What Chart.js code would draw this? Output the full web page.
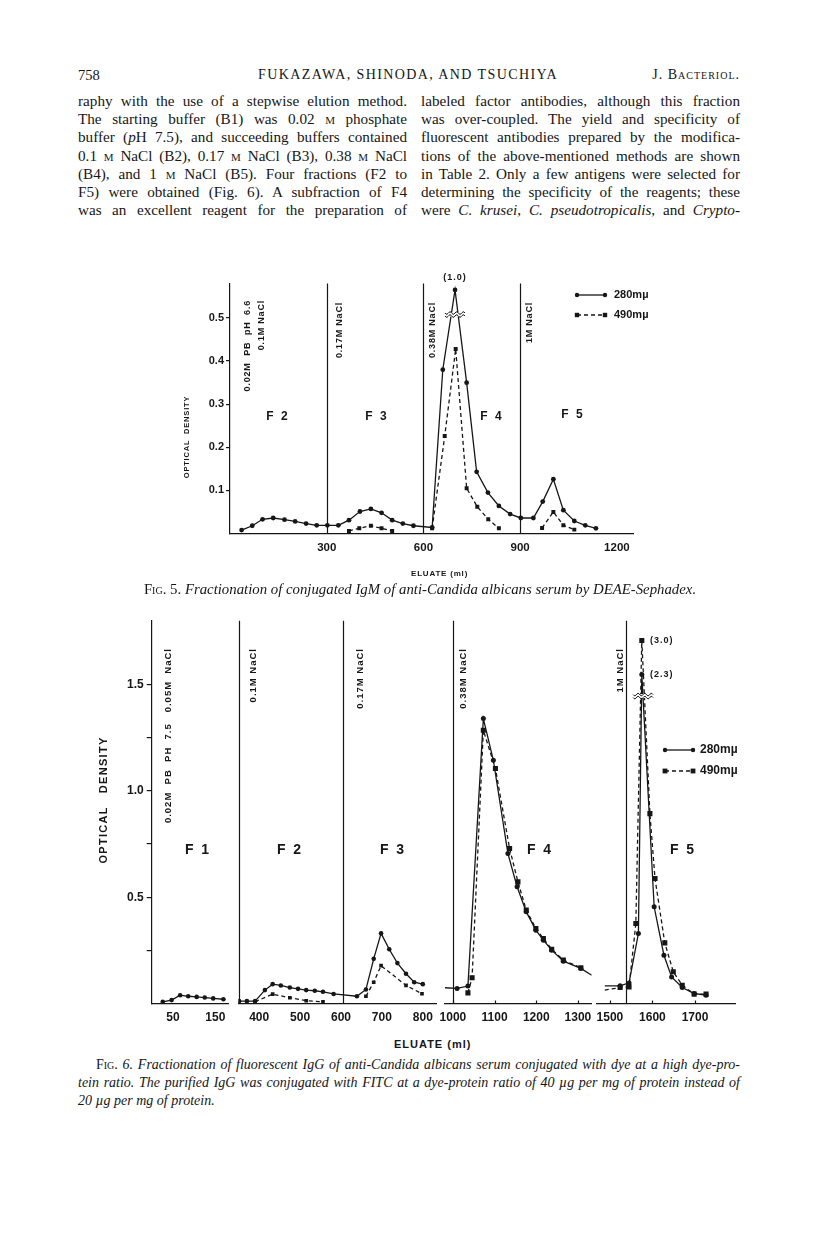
<!DOCTYPE html>
<html>
<head>
<meta charset="utf-8">
<script src="https://cdn.jsdelivr.net/npm/chart.js"></script>
<style>
  body { margin: 0; background: #fff; }
  #page { position: relative; width: 816px; height: 1256px; overflow: hidden; color: #161616;
          font-family: "Liberation Serif", "Times New Roman", serif; }
  .abs { position: absolute; white-space: nowrap; }
  .col { position: absolute; font-size: 15.2px; line-height: 18.2px; }
  .col div, .cap div { text-align: justify; text-align-last: justify; height: 18.2px; }
  .cap { position: absolute; font-size: 14px; line-height: 18px; font-style: italic; }
  .sc { font-variant: small-caps; font-style: normal; }
  .ax { font-family: "Liberation Sans", Arial, sans-serif; font-weight: bold; }
  canvas { position: absolute; }
</style>
</head>
<body>
<div id="page">
  <div class="abs" style="left:78px;top:67px;font-size:14.5px;">758</div>
  <div class="abs" style="left:0;width:816px;text-align:center;top:67px;font-size:14px;letter-spacing:1.4px;">FUKAZAWA, SHINODA, AND TSUCHIYA</div>
  <div class="abs" style="right:76px;top:67px;font-size:14px;letter-spacing:1px;">J. <span class="sc">Bacteriol.</span></div>

  <div class="col" style="left:78px;top:92px;width:329px;">
    <div>raphy with the use of a stepwise elution method.</div>
    <div>The starting buffer (B1) was 0.02 <span class="sc">m</span> phosphate</div>
    <div>buffer (<i>p</i>H 7.5), and succeeding buffers contained</div>
    <div>0.1 <span class="sc">m</span> NaCl (B2), 0.17 <span class="sc">m</span> NaCl (B3), 0.38 <span class="sc">m</span> NaCl</div>
    <div>(B4), and 1 <span class="sc">m</span> NaCl (B5). Four fractions (F2 to</div>
    <div>F5) were obtained (Fig. 6). A subfraction of F4</div>
    <div>was an excellent reagent for the preparation of</div>
  </div>
  <div class="col" style="left:421px;top:92px;width:319px;">
    <div>labeled factor antibodies, although this fraction</div>
    <div>was over-coupled. The yield and specificity of</div>
    <div>fluorescent antibodies prepared by the modifica-</div>
    <div>tions of the above-mentioned methods are shown</div>
    <div>in Table 2. Only a few antigens were selected for</div>
    <div>determining the specificity of the reagents; these</div>
    <div>were <i>C. krusei</i>, <i>C. pseudotropicalis</i>, and <i>Crypto-</i></div>
  </div>

  <canvas id="fig5" width="540" height="320" style="left:120px;top:262px;"></canvas>
  <div class="abs ax" style="left:411px;top:569px;font-size:8px;letter-spacing:0.8px;">ELUATE (ml)</div>
  <div class="abs" style="left:0;width:840px;text-align:center;top:581px;font-size:14.8px;"><span class="sc">Fig.</span> 5. <i>Fractionation of conjugated IgM of anti-Candida albicans serum by DEAE-Sephadex.</i></div>

  <canvas id="f6a" width="200" height="430" style="left:40px;top:600px;"></canvas>
  <canvas id="f6b" width="225" height="430" style="left:228px;top:600px;"></canvas>
  <canvas id="f6c" width="172" height="430" style="left:432px;top:600px;"></canvas>
  <canvas id="f6d" width="170" height="430" style="left:586px;top:600px;"></canvas>
  <div class="abs ax" style="left:394px;top:1038px;font-size:11px;letter-spacing:1px;">ELUATE (ml)</div>

  <div class="cap" style="left:78px;top:1056px;width:662px;">
    <div style="padding-left:18px;"><span class="sc">Fig.</span> 6. Fractionation of fluorescent IgG of anti-Candida albicans serum conjugated with dye at a high dye-pro-</div>
    <div>tein ratio. The purified IgG was conjugated with FITC at a dye-protein ratio of 40 µg per mg of protein instead of</div>
    <div style="text-align:left;text-align-last:left;">20 µg per mg of protein.</div>
  </div>
</div>

<script>
// Fig. 5 - conjugated IgM, DEAE-Sephadex (eluate ml / optical density)
const fig5Ml280 = [36, 69, 101, 134, 169, 202, 236, 269, 302, 336, 369, 403, 437, 470, 503, 536, 569, 627, 660, 698, 734, 765, 800, 834, 869, 902, 941, 970, 1003, 1034, 1068, 1102, 1135];
const fig5Od280 = [0.008, 0.018, 0.033, 0.036, 0.032, 0.028, 0.023, 0.019, 0.019, 0.019, 0.031, 0.051, 0.057, 0.048, 0.031, 0.023, 0.018, 0.014, 0.38, 0.565, 0.35, 0.143, 0.095, 0.064, 0.045, 0.036, 0.036, 0.074, 0.126, 0.054, 0.029, 0.019, 0.012];
const fig5Ml490 = [369, 401, 437, 470, 503, 560, 627, 666, 700, 734, 767, 801, 834, 900, 968, 1003, 1034, 1068];
const fig5Od490 = [0.006, 0.012, 0.018, 0.012, 0.006, null, 0.012, 0.226, 0.428, 0.105, 0.062, 0.033, 0.012, null, 0.013, 0.050, 0.019, 0.009];
const fig5Steps = [300, 600, 900];
const fig5XTicks = [300, 600, 900, 1200];
const fig5YTicks = [0.1, 0.2, 0.3, 0.4, 0.5];
const fig5Break = [698, 0.508];
const fig5PeakTrue = 1.0;

// Fig. 6 - fluorescent IgG, four panels with their own ml ranges
const f6aMl280 = [26, 47, 67, 86, 106, 125, 145, 169];
const f6aOd280 = [0.008, 0.016, 0.039, 0.034, 0.031, 0.028, 0.024, 0.020];

const f6bMl280 = [351, 370, 390, 414, 433, 453, 475, 495, 515, 536, 556, 582, 639, 661, 680, 698, 718, 738, 759, 779, 800];
const f6bOd280 = [0.011, 0.011, 0.011, 0.063, 0.091, 0.085, 0.075, 0.069, 0.063, 0.060, 0.055, 0.045, 0.034, 0.066, 0.21, 0.33, 0.255, 0.19, 0.14, 0.10, 0.091];
const f6bMl490 = [390, 433, 475, 515, 556, 610, 661, 680, 698, 759, 798];
const f6bOd490 = [0.008, 0.044, 0.027, 0.013, 0.008, null, 0.034, 0.10, 0.178, 0.085, 0.046];

const f6cMl280 = [981, 1010, 1036, 1073, 1097, 1132, 1154, 1176, 1199, 1217, 1237, 1265, 1307, 1333];
const f6cOd280 = [0.074, 0.071, 0.082, 1.340, 1.144, 0.705, 0.549, 0.431, 0.345, 0.298, 0.251, 0.199, 0.165, 0.133];
const f6cMl490 = [1036, 1046, 1073, 1102, 1136, 1156, 1176, 1199, 1217, 1237, 1265, 1307];
const f6cOd490 = [0.050, 0.121, 1.285, 1.105, 0.729, 0.572, 0.439, 0.353, 0.306, 0.255, 0.204, 0.168];

const f6dMl280 = [1488, 1524, 1545, 1567, 1575, 1604, 1627, 1645, 1670, 1698, 1726];
const f6dOd280 = [0.083, 0.083, 0.097, 0.329, 1.548, 0.455, 0.227, 0.125, 0.075, 0.047, 0.039];
const f6dMl490 = [1488, 1524, 1545, 1561, 1575, 1594, 1606, 1629, 1649, 1670, 1698, 1726];
const f6dOd490 = [0.063, 0.075, 0.078, 0.376, 1.707, 0.893, 0.588, 0.285, 0.149, 0.086, 0.044, 0.044];

const fig6Steps = [[], [351, 606], [1000], [1537]];
const fig6XTicks = [[50, 150], [400, 500, 600, 700, 800], [1000, 1100, 1200, 1300], [1500, 1600, 1700]];
const fig6YTicks = [0.25, 0.5, 0.75, 1.0, 1.25, 1.5];
const fig6Break = [1578, 1.446];
const fig6PeakTrue = [2.3, 3.0];

const ink = '#161616';
const sans = '"Liberation Sans", Arial, sans-serif';
Chart.defaults.animation = false;
Chart.defaults.font.family = sans;
Chart.defaults.color = ink;

const pts = (xs, ys) => xs.map((x, i) => ({x: x, y: ys[i]}));
const setTicks = vals => s => { s.ticks = vals.map(v => ({value: v})); };

function series(data, dashed, r, w) {
  return {
    data: data,
    borderColor: ink, backgroundColor: ink,
    borderWidth: w || 1.3,
    borderDash: dashed ? [4, 3] : [],
    pointStyle: dashed ? 'rect' : 'circle',
    pointRadius: r, pointBorderWidth: 0,
    tension: 0, spanGaps: false
  };
}

function marker(ctx, x, y, sq, r) {
  ctx.beginPath();
  if (sq) ctx.rect(x - r, y - r, 2 * r, 2 * r);
  else ctx.arc(x, y, r, 0, Math.PI * 2);
  ctx.fill();
}

// text, step lines, broken-axis marks and legend on top of a chart
function decor(o) {
  return {
    id: 'decor',
    afterDatasetsDraw(chart) {
      const ctx = chart.ctx, a = chart.chartArea, xs = chart.scales.x, ys = chart.scales.y;
      ctx.save();
      ctx.strokeStyle = ink; ctx.fillStyle = ink; ctx.lineWidth = 1.2;
      (o.steps || []).forEach(v => {
        const px = Math.round(xs.getPixelForValue(v)) + 0.5;
        ctx.beginPath(); ctx.moveTo(px, a.top); ctx.lineTo(px, a.bottom); ctx.stroke();
      });
      if (o.innerTicks) {
        xs.ticks.forEach(t => {
          const px = Math.round(xs.getPixelForValue(t.value)) + 0.5;
          ctx.beginPath(); ctx.moveTo(px, a.bottom - 3); ctx.lineTo(px, a.bottom); ctx.stroke();
        });
      }
      if (o.brk) {
        const cx = xs.getPixelForValue(o.brk[0]), cy = ys.getPixelForValue(o.brk[1]), w = 20;
        ctx.fillStyle = '#fff';
        ctx.fillRect(cx - w / 2, cy - 2, w, 4);
        ctx.fillStyle = ink;
        for (const dy of [-1.5, 1.5]) {
          ctx.beginPath();
          for (let i = 0; i <= w; i++) {
            const x = cx - w / 2 + i, y = cy + dy + 1.3 * Math.sin(i / w * 3 * 2 * Math.PI);
            if (i) ctx.lineTo(x, y); else ctx.moveTo(x, y);
          }
          ctx.lineWidth = 1; ctx.stroke();
        }
      }
      ctx.lineWidth = 1.3;
      (o.legend || []).forEach(l => {
        const x1 = l.x1 - o.left, x2 = l.x2 - o.left, y = l.y - o.top;
        ctx.setLineDash(l.dashed ? [4, 3] : []);
        ctx.beginPath(); ctx.moveTo(x1, y); ctx.lineTo(x2, y); ctx.stroke();
        ctx.setLineDash([]);
        marker(ctx, x1, y, l.dashed, l.r); marker(ctx, x2, y, l.dashed, l.r);
      });
      (o.texts || []).forEach(t => {
        ctx.save();
        ctx.translate(t.x - o.left, t.y - o.top);
        if (t.rot) ctx.rotate(-Math.PI / 2);
        ctx.font = t.font;
        ctx.letterSpacing = (t.ls || 0) + 'px';
        ctx.textAlign = t.align || (t.rot ? 'right' : 'center');
        ctx.textBaseline = 'middle';
        ctx.fillText(t.s, 0, 0);
        ctx.restore();
      });
      ctx.restore();
    }
  };
}

// ---------- Fig. 5 ----------
const f5Left = 120, f5Top = 262;
const lab9 = 'bold 9px ' + sans;
new Chart(document.getElementById('fig5'), {
  type: 'line',
  data: {
    datasets: [
      series(pts(fig5Ml280, fig5Od280), false, 2.4),
      series(pts(fig5Ml490, fig5Od490), true, 2.8)
    ]
  },
  options: {
    responsive: false,
    layout: {padding: {top: 21.5, right: 27, left: 0, bottom: 0}},
    plugins: {legend: {display: false}, tooltip: {enabled: false}},
    scales: {
      x: {
        type: 'linear', min: 0, max: 1250,
        afterBuildTicks: setTicks(fig5XTicks),
        afterFit: s => { s.height = 320 - 271.5; },
        ticks: {autoSkip: false, maxRotation: 0, padding: 7, font: {size: 11.5, weight: 'bold'}, callback: v => String(v)},
        grid: {display: false, drawTicks: false},
        border: {color: ink, width: 1.2}
      },
      y: {
        min: 0, max: 0.58,
        afterBuildTicks: setTicks(fig5YTicks),
        afterFit: s => { s.width = 110; },
        ticks: {padding: 2, font: {size: 11, weight: 'bold'}, callback: v => v.toFixed(1)},
        grid: {display: true, drawOnChartArea: false, drawTicks: true, tickLength: 4, color: ink, lineWidth: 1.2},
        border: {color: ink, width: 1.2}
      }
    }
  },
  plugins: [decor({
    left: f5Left, top: f5Top,
    steps: fig5Steps,
    brk: fig5Break,
    legend: [
      {x1: 577, x2: 605, y: 295, dashed: false, r: 2.2},
      {x1: 577, x2: 605, y: 315, dashed: true, r: 2.2}
    ],
    texts: [
      {x: 248, y: 300, s: '0.02M  PB  pH  6.6', rot: true, font: lab9, ls: 0.8},
      {x: 262, y: 300, s: '0.1M NaCl', rot: true, font: lab9, ls: 0.8},
      {x: 340, y: 302, s: '0.17M NaCl', rot: true, font: lab9, ls: 0.8},
      {x: 433, y: 302, s: '0.38M NaCl', rot: true, font: lab9, ls: 0.8},
      {x: 530, y: 302, s: '1M NaCl', rot: true, font: lab9, ls: 0.8},
      {x: 278, y: 417, s: 'F 2', font: 'bold 12px ' + sans, ls: 2},
      {x: 377, y: 417, s: 'F 3', font: 'bold 12px ' + sans, ls: 2},
      {x: 492, y: 417, s: 'F 4', font: 'bold 12px ' + sans, ls: 2},
      {x: 573, y: 415, s: 'F 5', font: 'bold 12px ' + sans, ls: 2},
      {x: 455, y: 278, s: '(' + fig5PeakTrue.toFixed(1) + ')', font: lab9, ls: 1},
      {x: 187, y: 437, s: 'OPTICAL  DENSITY', rot: true, align: 'center', font: 'bold 7.5px ' + sans, ls: 0.8},
      {x: 614, y: 295, s: '280mµ', align: 'left', font: 'bold 11px ' + sans},
      {x: 614, y: 315, s: '490mµ', align: 'left', font: 'bold 11px ' + sans}
    ]
  })]
});

// ---------- Fig. 6 ----------
const f6Top = 600, f6H = 430;
const lab95 = 'bold 9.5px ' + sans;
const fLab = 'bold 14px ' + sans;

function fig6Panel(id, left, width, padL, padR, min, max, datasets, idx, showY, extra) {
  return new Chart(document.getElementById(id), {
    type: 'line',
    data: {datasets: datasets},
    options: {
      responsive: false,
      layout: {padding: {top: 20.8, right: padR, left: padL, bottom: 0}},
      plugins: {legend: {display: false}, tooltip: {enabled: false}},
      scales: {
        x: {
          type: 'linear', min: min, max: max,
          afterBuildTicks: setTicks(fig6XTicks[idx]),
          afterFit: s => { s.height = f6H - 403.5; },
          ticks: {autoSkip: false, maxRotation: 0, padding: 7, font: {size: 12, weight: 'bold'}, callback: v => String(v)},
          grid: {display: false, drawTicks: false},
          border: {color: ink, width: 1.2}
        },
        y: {
          display: showY, min: 0, max: 1.8,
          afterBuildTicks: setTicks(fig6YTicks),
          afterFit: s => { s.width = 151.7 - left; },
          ticks: {padding: 3, font: {size: 12, weight: 'bold'},
                  callback: v => (Math.round(v * 100) % 50 === 0 ? v.toFixed(1) : '')},
          grid: {display: true, drawOnChartArea: false, drawTicks: true, tickLength: 5, color: ink, lineWidth: 1.2},
          border: {color: ink, width: 1.2}
        }
      }
    },
    plugins: [decor(Object.assign({left: left, top: f6Top, steps: fig6Steps[idx]}, extra))]
  });
}

fig6Panel('f6a', 40, 200, 0, 11.5, 0, 181,
  [series(pts(f6aMl280, f6aOd280), false, 2.3)], 0, true, {
    texts: [
      {x: 168, y: 648, s: '0.02M  PB  PH  7.5   0.05M  NaCl', rot: true, font: lab95, ls: 1},
      {x: 198, y: 850, s: 'F 1', font: fLab, ls: 2},
      {x: 104, y: 800, s: 'OPTICAL   DENSITY', rot: true, align: 'center', font: 'bold 11px ' + sans, ls: 1.3}
    ]
  });

fig6Panel('f6b', 228, 225, 10.3, 16.3, 349, 834,
  [series(pts(f6bMl280, f6bOd280), false, 2.3), series(pts(f6bMl490, f6bOd490), true, 2.6)], 1, false, {
    texts: [
      {x: 253, y: 648, s: '0.1M NaCl', rot: true, font: lab95, ls: 1},
      {x: 360, y: 648, s: '0.17M NaCl', rot: true, font: lab95, ls: 1},
      {x: 290, y: 850, s: 'F 2', font: fLab, ls: 2},
      {x: 393, y: 850, s: 'F 3', font: fLab, ls: 2}
    ]
  });

fig6Panel('f6c', 432, 172, 10.7, 12.3, 981, 1333,
  [series(pts(f6cMl280, f6cOd280), false, [0, 2.5, 2.5, 2.5, 2.5, 2.5, 2.5, 2.5, 2.5, 2.5, 2.5, 2.5, 2.5, 0]),
   series(pts(f6cMl490, f6cOd490), true, 3.6)], 2, false, {
    innerTicks: true,
    texts: [
      {x: 463, y: 648, s: '0.38M NaCl', rot: true, font: lab95, ls: 1},
      {x: 540, y: 850, s: 'F 4', font: fLab, ls: 2}
    ]
  });

fig6Panel('f6d', 586, 170, 10.7, 21, 1469, 1794,
  [series(pts(f6dMl280, f6dOd280), false, [0, 2.5, 2.5, 2.5, 2.5, 2.5, 2.5, 2.5, 2.5, 2.5, 2.5]),
   series(pts(f6dMl490, f6dOd490), true, [0, 3.6, 3.6, 3.6, 3.6, 3.6, 3.6, 3.6, 3.6, 3.6, 3.6, 3.6])], 3, false, {
    innerTicks: true,
    brk: fig6Break,
    legend: [
      {x1: 665, x2: 693, y: 750, dashed: false, r: 2.2},
      {x1: 665, x2: 693, y: 771, dashed: true, r: 2.4}
    ],
    texts: [
      {x: 620, y: 648, s: '1M NaCl', rot: true, font: lab95, ls: 1},
      {x: 683, y: 850, s: 'F 5', font: fLab, ls: 2},
      {x: 650, y: 641, s: '(' + fig6PeakTrue[1].toFixed(1) + ')', align: 'left', font: 'bold 9px ' + sans, ls: 1},
      {x: 650, y: 675, s: '(' + fig6PeakTrue[0].toFixed(1) + ')', align: 'left', font: 'bold 9px ' + sans, ls: 1},
      {x: 700, y: 750, s: '280mµ', align: 'left', font: 'bold 12px ' + sans},
      {x: 700, y: 771, s: '490mµ', align: 'left', font: 'bold 12px ' + sans}
    ]
  });
</script>
</body>
</html>
